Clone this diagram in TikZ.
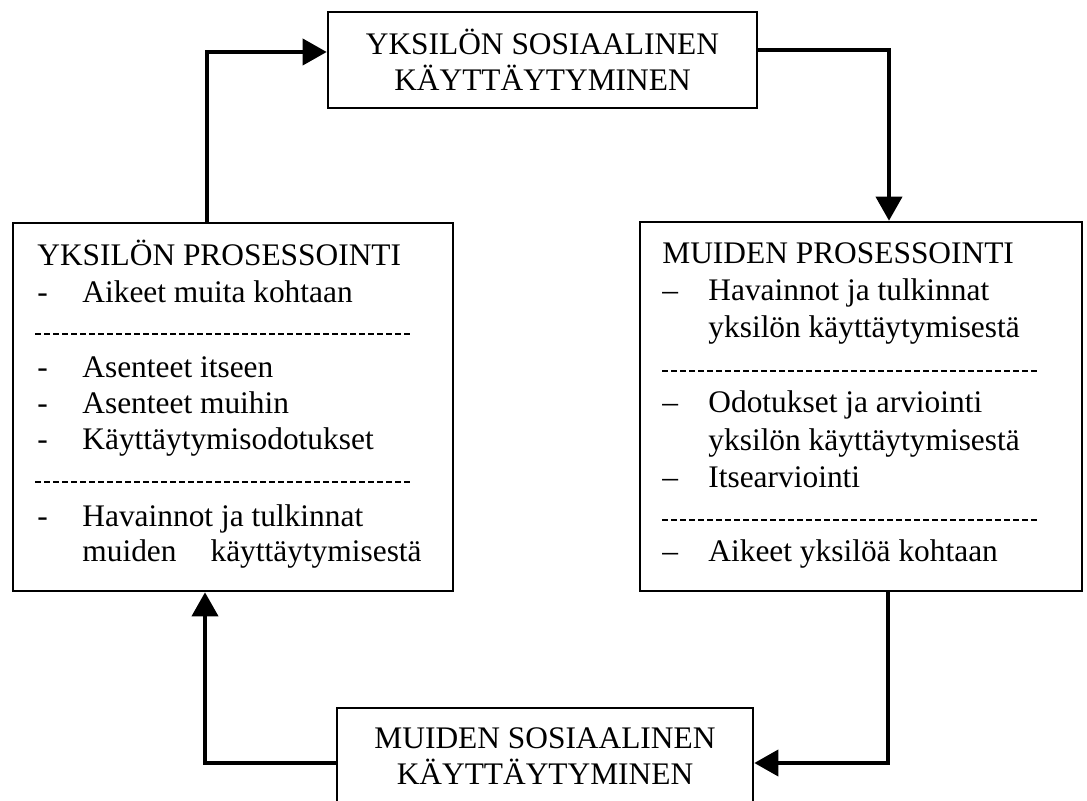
\documentclass[tikz,border=0pt]{standalone}
\usepackage{fontspec}
\setmainfont{Liberation Serif}
\usetikzlibrary{arrows.meta}

\begin{document}
\begin{tikzpicture}[x=0.5pt, y=-0.5pt,
  every node/.style={font=\fontsize{15.7}{18}\selectfont},
  panel/.style={draw, line width=1.3pt, inner sep=0pt},
  txt/.style={anchor=base west, inner sep=0pt},
  sepline/.style={line width=1pt, dash pattern=on 3pt off 1.5pt},
  flow/.style={line width=1.9pt, -{Triangle[length=12pt, width=13pt]}}]
  \useasboundingbox (0,0) rectangle (1087,801);
  \clip (0,0) rectangle (1087,801);

  % ── The four boxes ──
  \node[panel, align=center, minimum width=214.5pt, minimum height=48pt]
    (tbox) at (542.5, 60) {YKSILÖN SOSIAALINEN\\KÄYTTÄYTYMINEN};
  \node[panel, minimum width=220pt, minimum height=184pt] (lbox) at (233, 407) {};
  \node[panel, minimum width=221pt, minimum height=184.5pt] (rbox) at (861, 406.5) {};
  \node[panel, align=center, minimum width=208pt, minimum height=48pt]
    (bbox) at (545, 756) {MUIDEN SOSIAALINEN\\KÄYTTÄYTYMINEN};

  % Left box contents
  \node[txt] (ltitle) at (37, 266) {YKSILÖN PROSESSOINTI};
  \node[txt] (ld1) at (37, 303) {-};
  \node[txt] (li1) at (82, 303) {Aikeet muita kohtaan};
  \draw[sepline] (35, 334) -- (412, 334);
  \node[txt] (ld2) at (37, 378) {-};
  \node[txt] (li2) at (82, 378) {Asenteet itseen};
  \node[txt] (ld3) at (37, 414) {-};
  \node[txt] (li3) at (82, 414) {Asenteet muihin};
  \node[txt] (ld4) at (37, 450) {-};
  \node[txt] (li4) at (82, 450) {Käyttäytymisodotukset};
  \draw[sepline] (35, 482) -- (412, 482);
  \node[txt] (ld5) at (37, 527) {-};
  \node[txt] (li5) at (82, 527) {Havainnot ja tulkinnat};
  \node[txt] (li5b) at (82, 562) {muiden\hspace{17pt}käyttäytymisestä};

  % Right box contents
  \node[txt] (rtitle) at (662, 264) {MUIDEN PROSESSOINTI};
  \node[txt] (rd1) at (662, 301) {--};
  \node[txt] (ri1) at (708, 301) {Havainnot ja tulkinnat};
  \node[txt] (ri1b) at (708, 338) {yksilön käyttäytymisestä};
  \draw[sepline] (662, 371) -- (1038, 371);
  \node[txt] (rd2) at (662, 413) {--};
  \node[txt] (ri2) at (708, 413) {Odotukset ja arviointi};
  \node[txt] (ri2b) at (708, 451) {yksilön käyttäytymisestä};
  \node[txt] (rd3) at (662, 488) {--};
  \node[txt] (ri3) at (708, 488) {Itsearviointi};
  \draw[sepline] (662, 520) -- (1038, 520);
  \node[txt] (rd4) at (662, 562) {--};
  \node[txt] (ri4) at (708, 562) {Aikeet yksilöä kohtaan};

  % ── Connectors round the cycle ──
  \coordinate (up1) at (207, 52);
  \coordinate (up2) at (889, 50);
  \coordinate (dn1) at (888, 763);
  \coordinate (dn2) at (205, 763);
  \draw[flow] (up1 |- lbox.north) -- (up1) -- (up1 -| tbox.west);
  \draw[flow] (up2 -| tbox.east) -- (up2) -- (up2 |- rbox.north);
  \draw[flow] (dn1 |- rbox.south) -- (dn1) -- (dn1 -| bbox.east);
  \draw[flow] (dn2 -| bbox.west) -- (dn2) -- (dn2 |- lbox.south);
\end{tikzpicture}
\end{document}
